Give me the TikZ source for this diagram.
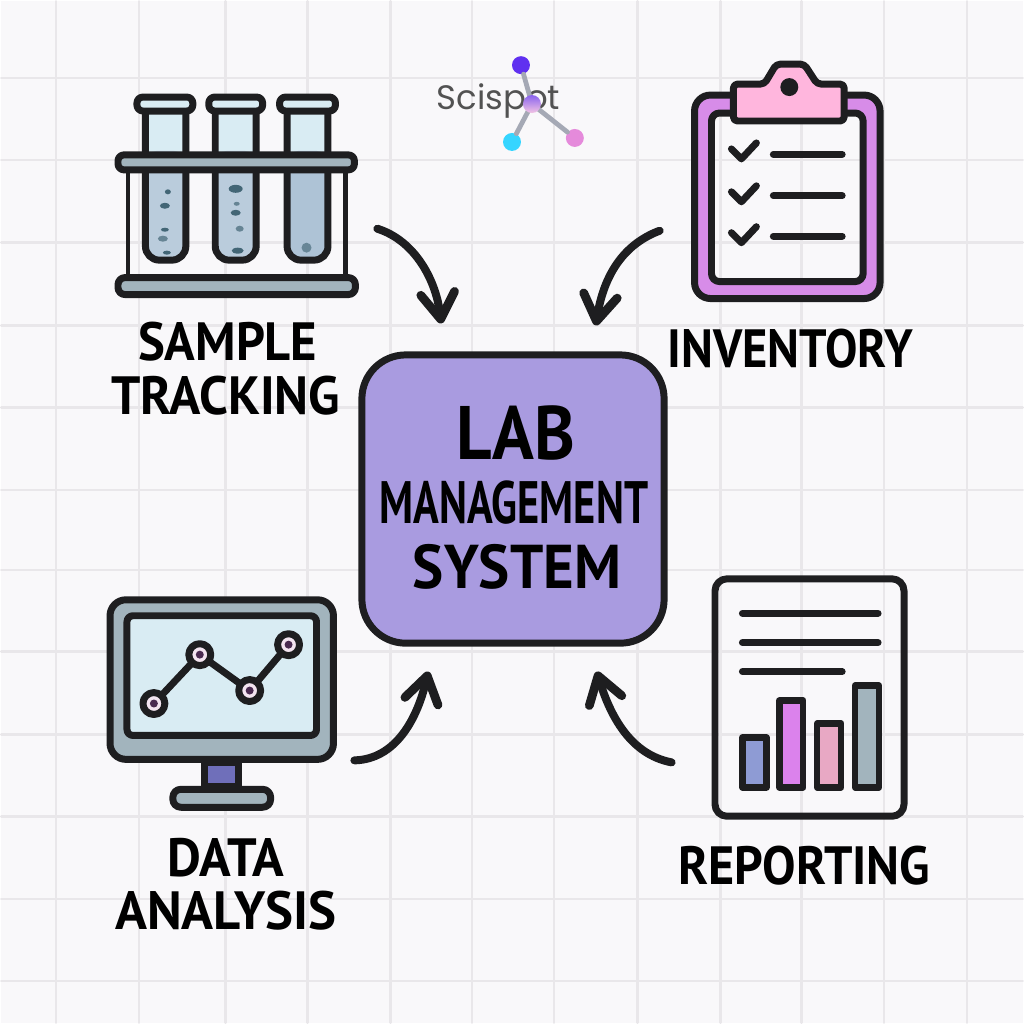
\documentclass[tikz,border=0pt]{standalone}
\usepackage{fontspec}
\setmainfont{PT Sans}
\newfontfamily\logofont{Poppins}
\usepackage{xcolor}
\usetikzlibrary{arrows.meta,positioning,shapes,calc}

\definecolor{pagebg}{HTML}{F9F8FA}
\definecolor{gridline}{HTML}{E9E7EA}
\definecolor{inkblack}{HTML}{1E1E20}
\definecolor{hubfill}{HTML}{A99BE0}
\definecolor{glassfill}{HTML}{D9ECF3}
\definecolor{liquidfill}{HTML}{AEC3D6}
\definecolor{steelfill}{HTML}{A2B4BD}
\definecolor{speck}{HTML}{2F5565}
\definecolor{boardfill}{HTML}{D78CE8}
\definecolor{clipfill}{HTML}{FFB6DD}
\definecolor{logotopcolor}{HTML}{8A63EE}
\definecolor{logobotcolor}{HTML}{F3C4E4}
\definecolor{logopurple}{HTML}{6030F0}
\definecolor{logocyan}{HTML}{35D5FF}
\definecolor{logopink}{HTML}{E58ADB}
\definecolor{logostem}{HTML}{A5A9B5}
\definecolor{standfill}{HTML}{6F6FBA}
\definecolor{pointfill}{HTML}{F3E4F0}
\definecolor{pointcore}{HTML}{4A2A50}
\definecolor{barblue}{HTML}{8E9BD4}
\definecolor{barviolet}{HTML}{DB82EC}
\definecolor{barrose}{HTML}{E8A8C4}

\begin{document}
\begin{tikzpicture}[x=0.5pt, y=-0.5pt, >=latex, line join=round, line cap=round]
    \tikzstyle{ink} = [draw=inkblack, line width=3.5pt]
    \tikzstyle{thinink} = [draw=inkblack, line width=3.2pt]
    \tikzstyle{textline} = [draw=inkblack, line width=3.5pt]
    \tikzstyle{flow} = [draw=inkblack, line width=4pt, -{Straight Barb[length=13pt, width=17pt, line width=4.4pt, round]}]
    \tikzstyle{caption} = [inner sep=0pt, text=black, font=\fontsize{27}{27}\selectfont\bfseries]
    \tikzstyle{hubtext} = [inner sep=0pt, text=black, font=\bfseries]
    \tikzstyle{dot} = [circle, inner sep=0pt, minimum size=9pt]
    \tikzstyle{blob} = [fill=speck, opacity=0.85]

    % page and grid
    \fill [pagebg] (0,0) rectangle (1024,1024);
    \foreach \gx in {55,138,225,307,390,472,554,638,721,802,885,968}
        \draw [gridline, line width=1.3pt] (\gx,0) -- (\gx,1024);
    \foreach \gy in {77,159,242,325,407,490,570,652,735,817,900,982}
        \draw [gridline, line width=1.3pt] (0,\gy) -- (1024,\gy);

    % logo
    \node [inner sep=0pt, text=black!68, font=\fontsize{17}{17}\logofont] (logo) at (498.5,100) {Scispot};
    \coordinate (logohub) at (532,103);
    \node [dot, fill=logopurple] (logotop) at (521,64) {};
    \node [dot, fill=logocyan] (logoleft) at (512,141) {};
    \node [dot, fill=logopink] (logoright) at (575,137) {};
    \draw [draw=logostem, line width=2.4pt] (logotop) -- (logohub);
    \draw [draw=logostem, line width=2.4pt] (logoleft) -- (logohub);
    \draw [draw=logostem, line width=2.4pt] (logoright) -- (logohub);
    \shade [top color=logotopcolor, bottom color=logobotcolor] (532,103) circle (9);

    % sample rack
    \fill [glassfill] (144,105) rectangle (185,160);
    \fill [glassfill] (214,105) rectangle (256,160);
    \fill [glassfill] (286,105) rectangle (328,160);
    \fill [liquidfill!85!white, rounded corners=6pt] (144,150) rectangle (185,260);
    \fill [liquidfill!85!white, rounded corners=6pt] (214,150) rectangle (256,260);
    \fill [liquidfill, rounded corners=6pt] (286,150) rectangle (328,260);
    \draw [draw=inkblack, line width=2.3pt] (127,165) -- (127,280);
    \draw [draw=inkblack, line width=2.3pt] (345,165) -- (345,280);
    \draw [ink, rounded corners=7pt] (144.5,105) -- (144.5,259.5) -- (185,259.5) -- (185,105);
    \draw [ink, rounded corners=7pt] (214.5,105) -- (214.5,259.5) -- (255.5,259.5) -- (255.5,105);
    \draw [ink, rounded corners=7pt] (286.5,105) -- (286.5,259.5) -- (327.5,259.5) -- (327.5,105);
    \draw [ink, fill=glassfill, rounded corners=3pt] (136,96) rectangle (192,110);
    \draw [ink, fill=glassfill, rounded corners=3pt] (208,96) rectangle (262,110);
    \draw [ink, fill=glassfill, rounded corners=3pt] (279,96) rectangle (335,110);
    \draw [ink, fill=steelfill, rounded corners=3pt] (117,154) rectangle (354,169);
    \draw [ink, fill=steelfill, rounded corners=3.5pt] (117,277) rectangle (355,294);
    \fill [blob] (167,191) ellipse (3 and 2.5);
    \fill [blob] (164,205) ellipse (5 and 3);
    \fill [blob] (164,229) ellipse (4 and 2);
    \fill [blob, opacity=0.6] (162,238) ellipse (5 and 3);
    \fill [blob] (166,252) ellipse (4 and 2);
    \fill [blob] (235,188) ellipse (7 and 4);
    \fill [blob, opacity=0.6] (236,203) ellipse (3 and 2);
    \fill [blob] (235,212) ellipse (5 and 3);
    \fill [blob, opacity=0.6] (239,228) ellipse (4 and 3);
    \fill [blob] (237,250) ellipse (6 and 3);
    \fill [blob, opacity=0.55] (306,247) ellipse (5 and 5);

    % clipboard
    \fill [boardfill, even odd rule, rounded corners=5pt] (695,94) rectangle (881,298) (712,112) rectangle (864,281);
    \draw [ink, rounded corners=8pt] (695,94) rectangle (881,298);
    \draw [ink, rounded corners=4pt] (712,112) rectangle (864,281);
    \draw [ink, fill=clipfill, rounded corners=2pt] (734,83) -- (765,83) -- (777,63) -- (805,63) -- (818,83) -- (845,83) -- (845,120) -- (734,120) -- cycle;
    \fill [inkblack] (790,86) circle (9);
    \draw [textline] (732,148) -- (742,158) -- (757,142);
    \draw [textline] (732,191) -- (742,201) -- (757,185);
    \draw [textline] (732,232) -- (742,242) -- (757,226);
    \draw [textline] (774,153.5) -- (843,153.5);
    \draw [textline] (774,195) -- (843,195);
    \draw [textline] (774,235.5) -- (843,235.5);

    % monitor
    \draw [ink, fill=steelfill, rounded corners=8pt] (109,600) rectangle (333,760);
    \draw [ink, fill=glassfill, rounded corners=3pt] (126,616) rectangle (316,736);
    \draw [ink, fill=standfill] (204,763) rectangle (238,787);
    \draw [ink, fill=steelfill, rounded corners=4pt] (172,790) rectangle (270,808);
    \draw [ink] (153,704) -- (199,655) -- (249,691) -- (288,645);
    \foreach \px/\py in {153/704, 199/655, 249/691, 288/645} {
        \draw [ink, fill=pointfill] (\px,\py) circle (11);
        \fill [pointcore] (\px,\py) circle (4);
    }

    % report
    \draw [ink, rounded corners=6pt] (715.5,579) rectangle (905,817);
    \draw [textline] (743,613.5) -- (879,613.5);
    \draw [textline] (743,643) -- (879,643);
    \draw [textline] (743,672) -- (843,672);
    \draw [thinink, fill=barblue] (743,738) rectangle (767,788);
    \draw [thinink, fill=barviolet] (780,701) rectangle (804,788);
    \draw [thinink, fill=barrose] (818,724) rectangle (842,788);
    \draw [thinink, fill=steelfill] (856,686) rectangle (880,788);

    % hub
    \node [draw=inkblack, line width=3.5pt, fill=hubfill, rounded corners=22pt, minimum width=151.5pt, minimum height=144.5pt, inner sep=0pt] (hub) at (513,499) {};
    \node [hubtext, font=\fontsize{38}{38}\selectfont\bfseries] (lab) at (516,433) {\scalebox{0.91}[1]{LAB}};
    \node [hubtext, font=\fontsize{30}{30}\selectfont\bfseries] (management) at (514,503) {\scalebox{0.71}[1]{MANAGEMENT}};
    \node [hubtext, font=\fontsize{31}{31}\selectfont\bfseries] (system) at (517,567) {\scalebox{0.95}[1]{SYSTEM}};

    % captions
    \node [caption] (sample) at (227,341) {\scalebox{0.94}[1]{SAMPLE}};
    \node [caption] (tracking) at (225,395) {\scalebox{0.96}[1]{TRACKING}};
    \node [caption] (inventory) at (791,348) {\scalebox{0.90}[1]{INVENTORY}};
    \node [caption] (data) at (225,859) {\scalebox{0.97}[1]{DATA}};
    \node [caption] (analysis) at (225,912) {\scalebox{0.98}[1]{ANALYSIS}};
    \node [caption] (reporting) at (805,867) {\scalebox{0.93}[1]{REPORTING}};

    % connectors
    \coordinate (rackout) at (377,228);
    \coordinate (rackin) at (441,323);
    \coordinate (clipout) at (660,230);
    \coordinate (clipin) at (596,325);
    \coordinate (screenout) at (354,761);
    \coordinate (screenin) at (428,672);
    \coordinate (reportout) at (672,763);
    \coordinate (reportin) at (597,672);
    \draw [flow] (rackout) .. controls (415,240) and (436,280) .. (rackin);
    \draw [flow] (clipout) .. controls (620,245) and (603,280) .. (clipin);
    \draw [flow] (screenout) .. controls (395,760) and (417,720) .. (screenin);
    \draw [flow] (reportout) .. controls (630,755) and (610,715) .. (reportin);
\end{tikzpicture}
\end{document}
